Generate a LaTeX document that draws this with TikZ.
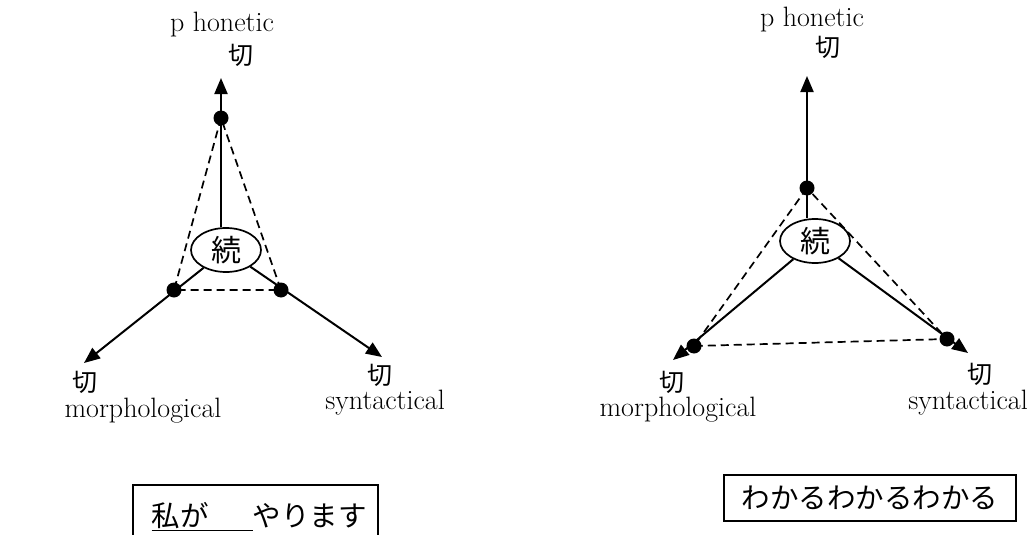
\documentclass[tikz,border=0pt]{standalone}
\usepackage{fontspec}
\newfontfamily\cjk{Noto Sans CJK JP}
\usetikzlibrary{arrows.meta,shapes.geometric}
\begin{document}
\begin{tikzpicture}[x=1pt,y=-1pt,
  axis/.style={line width=2pt,-{Triangle[length=16pt,width=13pt]}},
  dashline/.style={line width=1.7pt,dash pattern=on 8pt off 5pt},
  dotnode/.style={circle,fill=black,inner sep=0pt,minimum size=15pt},
  core/.style={ellipse,draw,line width=1.7pt,minimum width=70pt,minimum height=44pt,inner sep=0pt,font=\cjk\fontsize{30}{30}\selectfont},
  lbl/.style={font=\fontsize{28}{30}\selectfont,inner sep=0pt},
  kanji/.style={font=\cjk\fontsize{25}{25}\selectfont,inner sep=0pt},
  jbox/.style={font=\cjk\fontsize{28.5}{30}\selectfont,inner sep=0pt},
  frame/.style={line width=1.6pt}]
\useasboundingbox (0,0) rectangle (1033,535);
% ---------- left diagram ----------
\node[core] (e1) at (226,250) {続};
\node[dotnode] (t1) at (221,118) {};
\node[dotnode] (l1) at (174,290) {};
\node[dotnode] (r1) at (281,290) {};
\coordinate (ta1) at (221,78);
\coordinate (la1) at (84,363);
\coordinate (ra1) at (382,357);
\draw[axis] (t1 |- e1.north) -- (ta1);
\draw[axis] (e1) -- (la1);
\draw[axis] (e1) -- (ra1);
\draw[dashline] (t1.center) -- (l1.center) -- (r1.center) -- cycle;
\node[lbl] (ph1) at (222,25) {p honetic};
\node[kanji] (k1t) at (241,55) {切};
\node[kanji] (k1l) at (85,382) {切};
\node[lbl] (m1) at (143,411) {morphological};
\node[kanji] (k1r) at (380,375) {切};
\node[lbl] (s1) at (385,403) {syntactical};
\node[jbox] (b1) at (259,517) {\underline{私が\hspace{44pt}}やります};
\draw[frame] (133,545) |- (378,485) -- (378,545);
% ---------- right diagram ----------
\node[core] (e2) at (815,241) {続};
\node[dotnode] (t2) at (807,188) {};
\node[dotnode] (l2) at (694,346) {};
\node[dotnode] (r2) at (947,339) {};
\coordinate (ta2) at (807,76);
\coordinate (la2) at (673,360);
\coordinate (ra2) at (968,353);
\draw[axis] (t2 |- e2.north) -- (ta2);
\draw[axis] (e2) -- (la2);
\draw[axis] (e2) -- (ra2);
\draw[dashline] (t2.center) -- (l2.center) -- (r2.center) -- cycle;
\node[lbl] (ph2) at (812,20) {p honetic};
\node[kanji] (k2t) at (828,47) {切};
\node[kanji] (k2l) at (672,382) {切};
\node[lbl] (m2) at (678,410) {morphological};
\node[kanji] (k2r) at (980,374) {切};
\node[lbl] (s2) at (968,403) {syntactical};
\node[jbox,draw,frame,minimum width=292pt,minimum height=46pt] (b2) at (870,498) {わかるわかるわかる};
\end{tikzpicture}
\end{document}
